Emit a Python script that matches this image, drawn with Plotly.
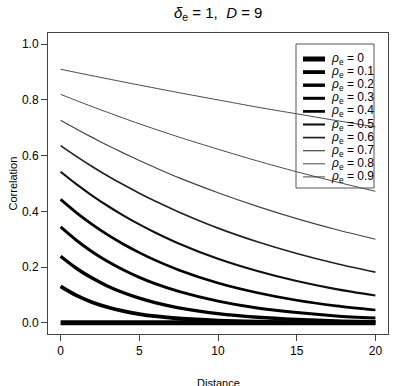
import plotly.graph_objects as go

# ---- data ----
distance = [0, 1, 2, 3, 4, 5, 6, 7.5, 10, 12.5, 15, 17.5, 20]
rho_labels = ["0", "0.1", "0.2", "0.3", "0.4", "0.5", "0.6", "0.7", "0.8", "0.9"]

corr_00 = [0, 0, 0, 0, 0, 0, 0, 0, 0, 0, 0, 0, 0]
corr_01 = [0.131, 0.0986, 0.0742, 0.0559, 0.0421, 0.0317, 0.0238, 0.0156, 0.008, 0.004, 0.002, 0.001, 0.0004]
corr_02 = [0.239, 0.1959, 0.1606, 0.1316, 0.1079, 0.0884, 0.0725, 0.054, 0.033, 0.020, 0.012, 0.007, 0.0045]
corr_03 = [0.344, 0.2964, 0.2554, 0.2200, 0.1896, 0.1633, 0.1407, 0.113, 0.078, 0.053, 0.037, 0.025, 0.017]
corr_04 = [0.443, 0.3957, 0.3534, 0.3157, 0.2820, 0.2519, 0.2250, 0.190, 0.143, 0.108, 0.081, 0.061, 0.046]
corr_05 = [0.542, 0.4975, 0.4567, 0.4193, 0.3849, 0.3533, 0.3244, 0.285, 0.230, 0.186, 0.150, 0.121, 0.098]
corr_06 = [0.636, 0.5974, 0.5612, 0.5271, 0.4951, 0.4651, 0.4369, 0.398, 0.340, 0.291, 0.249, 0.213, 0.182]
corr_07 = [0.727, 0.6955, 0.6654, 0.6366, 0.6090, 0.5826, 0.5574, 0.521, 0.467, 0.418, 0.374, 0.335, 0.300]
corr_08 = [0.820, 0.7977, 0.7760, 0.7549, 0.7344, 0.7144, 0.6950, 0.667, 0.623, 0.581, 0.542, 0.506, 0.472]
corr_09 = [0.910, 0.8983, 0.8868, 0.8755, 0.8643, 0.8532, 0.8423, 0.826, 0.800, 0.774, 0.750, 0.726, 0.703]

series = [corr_00, corr_01, corr_02, corr_03, corr_04,
          corr_05, corr_06, corr_07, corr_08, corr_09]

x_ticks = [0, 5, 10, 15, 20]
y_ticks = [0.0, 0.2, 0.4, 0.6, 0.8, 1.0]
y_ticktext = ["0.0", "0.2", "0.4", "0.6", "0.8", "1.0"]

# ---- styles ----
widths = [5.0, 3.8, 3.4, 3.0, 2.7, 2.1, 1.7, 1.2, 1.0, 0.9]
colors = ["#000000", "#000000", "#000000", "#000000", "#000000",
          "#111111", "#222222", "#444444", "#4a4a4a", "#333333"]

FONT = "Liberation Sans, Arial, Helvetica, sans-serif"
W, H = 394, 386
L, R, T, B = 48, 6, 33, 52
PW, PH = W - L - R, H - T - B


def px(xp):
    return (xp - L) / PW


def py(yp):
    return (H - B - yp) / PH


fig = go.Figure()
for i, ys in enumerate(series):
    fig.add_trace(go.Scatter(
        x=distance, y=ys, mode="lines",
        line=dict(color=colors[i], width=widths[i], shape="spline", smoothing=0.8),
        showlegend=False, hoverinfo="skip"))

shapes = []
annotations = []

# legend box
shapes.append(dict(type="rect", xref="paper", yref="paper",
                   x0=px(296), x1=px(374), y0=py(188), y1=py(44),
                   line=dict(color="#555555", width=1), fillcolor="rgba(0,0,0,0)"))
for i, lab in enumerate(rho_labels):
    yy = py(59 + 13.1 * i)
    shapes.append(dict(type="line", xref="paper", yref="paper",
                       x0=px(303), x1=px(325), y0=yy, y1=yy,
                       line=dict(color=colors[i], width=widths[i])))
    annotations.append(dict(xref="paper", yref="paper", x=px(329), y=yy,
                            xanchor="left", yanchor="middle", showarrow=False,
                            text="<i>ρ</i><sub>e</sub> = " + lab,
                            font=dict(family=FONT, size=12, color="#000")))

# title and axis titles
annotations.append(dict(xref="paper", yref="paper", x=0.5, y=py(14),
                        xanchor="center", yanchor="middle", showarrow=False,
                        text="<i>δ</i><sub>e</sub> = 1,  <i>D</i> = 9",
                        font=dict(family=FONT, size=15, color="#000")))
annotations.append(dict(xref="paper", yref="paper", x=0.5, y=py(383),
                        xanchor="center", yanchor="middle", showarrow=False,
                        text="Distance", font=dict(family=FONT, size=11, color="#000")))
annotations.append(dict(xref="paper", yref="paper", x=px(12), y=0.5,
                        xanchor="center", yanchor="middle", showarrow=False,
                        textangle=-90,
                        text="Correlation", font=dict(family=FONT, size=11, color="#000")))

fig.update_layout(
    width=W, height=H,
    margin=dict(l=L, r=R, t=T, b=B, pad=0),
    paper_bgcolor="white", plot_bgcolor="white",
    font=dict(family=FONT, size=12, color="#000"),
    shapes=shapes, annotations=annotations,
    xaxis=dict(range=[-0.8, 20.8], tickvals=x_ticks, ticks="outside", ticklen=6,
               tickcolor="#444", showgrid=False, zeroline=False,
               showline=True, linecolor="#444", linewidth=1, mirror=True,
               tickfont=dict(family=FONT, size=12, color="#000")),
    yaxis=dict(range=[-0.04, 1.04], tickvals=y_ticks, ticktext=y_ticktext,
               ticks="outside", ticklen=6, tickcolor="#444",
               showgrid=False, zeroline=False,
               showline=True, linecolor="#444", linewidth=1, mirror=True,
               tickfont=dict(family=FONT, size=12, color="#000")),
)

fig.write_html("out.html")
